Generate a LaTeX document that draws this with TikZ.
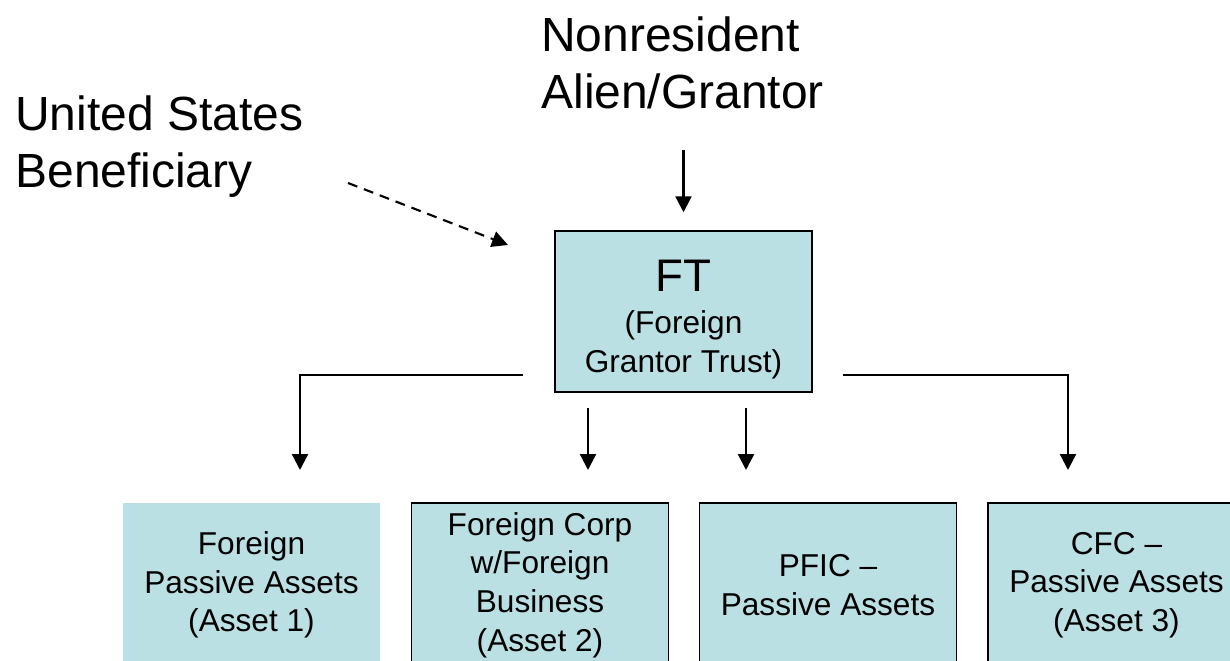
\documentclass[tikz,border=0pt]{standalone}
\usepackage{fontspec}
\setmainfont{Liberation Sans}
\usepackage{xcolor}
\usetikzlibrary{arrows.meta,calc,positioning}
\definecolor{boxfill}{RGB}{187,224,227}
\tikzset{%
	entity/.style    = {rectangle, fill=boxfill, minimum width=5.14cm, minimum height=3.28cm, inner sep=0pt, align=center, font=\fontsize{18}{22}\selectfont},
	framed/.style    = {entity, draw, line width=0.85pt},
	party/.style     = {inner sep=0pt, align=left, font=\fontsize{27.3}{32.4}\selectfont},
	arrow/.style     = {line width=1.4pt, -{Triangle[length=0.32cm,width=0.32cm]}},
	dasharrow/.style = {arrow, line width=1.2pt, dash pattern=on 0.2cm off 0.14cm},
}
\begin{document}
\begin{tikzpicture}[x=0.02cm,y=-0.02cm]
	\useasboundingbox (0,0) rectangle (1230,661);
	\clip (0,0) rectangle (1230,661);
	% people
	\node[party, anchor=north west] (nra) at (541,16) {Nonresident\\Alien/Grantor};
	\node[party, anchor=north west] (usb) at (15,95) {United States\\Beneficiary};
	% trust
	\node[framed, minimum height=3.22cm] (ft) at (683.5,311.5) {{\fontsize{26}{30}\selectfont\rule{0pt}{0.95cm}FT}\\[2pt](Foreign\\Grantor Trust)};
	% assets
	\node[entity] (fpa) at (251.5,585) {Foreign\\Passive Assets\\(Asset 1)};
	\node[framed] (fcb) at (540,585) {Foreign Corp\\w/Foreign\\Business\\(Asset 2)};
	\node[framed] (pfic) at (828,585) {PFIC --\\Passive Assets};
	\node[framed] (cfc) at (1116.5,585) {CFC --\\Passive Assets\\(Asset 3)};
	% free ends
	\coordinate (ntail) at (683.5,150);
	\coordinate (utail) at (348,183);
	\coordinate (uhead) at (508,245);
	\coordinate (lsplit) at (523,375);
	\coordinate (rsplit) at (843,375);
	\coordinate (t1) at (300,470);
	\coordinate (t2) at (588,470);
	\coordinate (t3) at (746,470);
	\coordinate (t4) at (1068,470);
	% arrows
	\draw[arrow, shorten >=0.36cm] (ntail) -- (ft.north);
	\draw[dasharrow] (utail) -- (uhead);
	\draw[arrow] (lsplit) -| (t1);
	\draw[arrow] (rsplit) -| (t4);
	\draw[arrow, shorten <=0.3cm] (ft.south -| t2) -- (t2);
	\draw[arrow, shorten <=0.3cm] (ft.south -| t3) -- (t3);
\end{tikzpicture}
\end{document}
